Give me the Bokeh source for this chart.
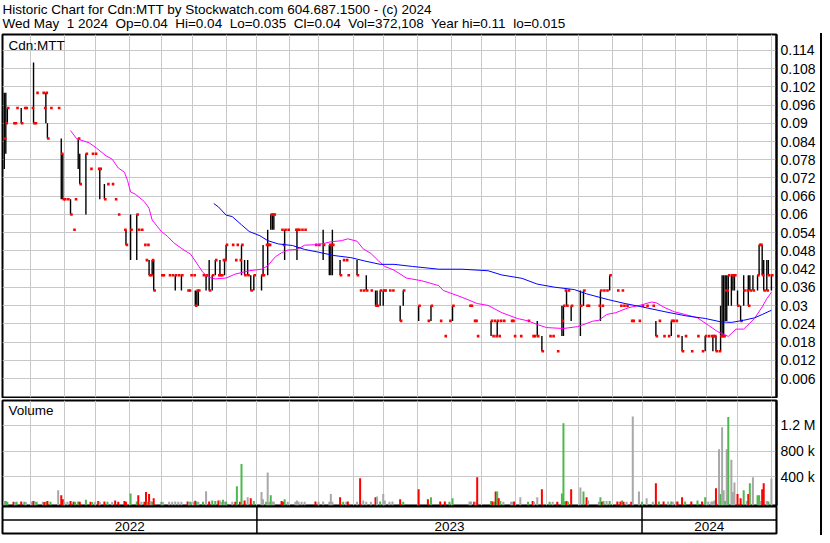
import pandas as pd
from bokeh.plotting import figure
from bokeh.models import (Range1d, FixedTicker, CustomJSTickFormatter, Span, Label,
                          ColumnDataSource, Spacer)
from bokeh.layouts import column, row
from bokeh.core.properties import value
from bokeh.embed import file_html
from bokeh.resources import INLINE

FONT = "Liberation Sans"

# ---------------- header texts ----------------
title_line = "Historic Chart for Cdn:MTT by Stockwatch.com 604.687.1500 - (c) 2024"
quote_line = "Wed May\u00a0 1 2024\u00a0 Op=0.04\u00a0 Hi=0.04\u00a0 Lo=0.035\u00a0 Cl=0.04\u00a0 Vol=372,108\u00a0 Year hi=0.11\u00a0 lo=0.015"
symbol = "Cdn:MTT"
year_names = ["2022", "2023", "2024"]

# ---------------- trading calendar (TSX) ----------------
first_day = "2022-05-02"
last_day = "2024-05-01"
holidays = ["2022-05-23", "2022-07-01", "2022-08-01", "2022-09-05", "2022-10-10",
            "2022-12-26", "2022-12-27", "2023-01-02", "2023-02-20", "2023-04-07",
            "2023-05-22", "2023-07-03", "2023-08-07", "2023-09-04", "2023-10-09",
            "2023-12-25", "2023-12-26", "2024-01-01", "2024-02-19", "2024-03-29"]

# ---------------- daily bars (trading-day number, high, low, close, volume in 1000s) ----------------
day = [4, 5, 6, 10, 11, 12, 15, 17, 18, 22, 23, 24, 25, 29, 30, 31, 32, 34,
       39, 41, 42, 43, 45, 47, 49, 50, 52, 53, 57, 60, 61, 63, 65, 66, 69, 71, 74, 76,
       78, 82, 83, 86, 90, 91, 93, 95, 96, 97, 98, 99, 100, 101,
       106, 107, 111, 113, 115, 117, 119, 123, 124, 125, 127, 128, 129, 130,
       133, 135, 137, 139, 141, 143, 144, 145, 146, 147, 148, 152, 154, 155, 157, 158, 160, 162, 164, 166,
       171, 172, 174, 175, 176, 177, 178, 179, 184, 185, 186, 188, 193, 194, 195, 197, 199,
       206, 208, 211, 215, 216, 217, 222, 224, 226, 227, 233, 235, 237, 239, 242, 245, 246, 248, 250, 251,
       254, 256,
       261, 263, 273, 279, 281, 287, 290, 293, 295, 306, 307, 309, 310, 311, 320, 321, 322, 323, 324, 325,
       326, 328, 333, 334, 335, 339, 344, 347, 348, 350, 353, 358, 360, 363, 366, 367, 368, 369, 370, 372,
       378, 380, 382, 383, 390, 391, 392, 393, 395, 397, 402, 404, 405, 406, 408, 411, 412, 416, 418, 421,
       425, 427, 429, 432, 435, 437, 438, 440, 441, 444, 446, 450, 454, 457, 459, 461, 463, 464, 465, 466,
       468,
       469, 470, 471, 472, 473, 474, 476, 477, 478, 480, 482, 484, 486, 487, 488, 490, 493, 494, 495, 496,
       497, 499, 500, 502]
high = [.1, .1, .095, .09, .09, .095, .095, .095, .095, .095, .11, .09, .1, .1, .095, .1, .09, .095,
        .095, .085, .08, .065, .065, .065, .055, .065, .085, .08, .08, .075, .08, .08, .075, .075, .07, .07, .07, .065,
        .06, .055, .055, .06, .06, .055, .055, .05, .045, .05, .045, .04, .045, .045,
        .04, .04, .04, .04, .04, .04, .04, .035, .035, .04, .04, .035, .035, .035,
        .04, .04, .045, .04, .045, .04, .045, .04, .045, .045, .05, .05, .045, .05, .045, .05, .045, .045, .04, .04,
        .04, .05, .05, .055, .05, .06, .06, .06, .055, .05, .055, .055, .055, .055, .055, .055, .055,
        .05, .05, .055, .05, .05, .055, .045, .045, .045, .04, .045, .035, .035, .04, .035, .035, .035, .035, .035, .035,
        .035, .035,
        .03, .035, .03, .025, .03, .025, .02, .025, .03, .03, .03, .025, .025, .02, .025, .02, .025, .02, .025, .02,
        .025, .025, .025, .025, .02, .02, .025, .02, .02, .025, .02, .02, .02, .015, .03, .03, .035, .035, .035, .03,
        .035, .035, .03, .03, .03, .035, .03, .035, .035, .04, .035, .03, .035, .03, .03, .025, .025, .025, .03, .03,
        .03, .025, .025, .02, .02, .025, .025, .025, .02, .02, .02, .015, .02, .015, .02, .02, .02, .02, .02, .02,
        .015,
        .03, .04, .04, .04, .04, .04, .04, .04, .04, .035, .03, .04, .035, .04, .04, .04, .04, .05, .05, .05,
        .045, .045, .045, .04]
low = [.075, .08, .09, .09, .09, .095, .09, .095, .095, .095, .09, .09, .1, .1, .095, .09, .085, .095,
       .095, .065, .065, .065, .065, .06, .055, .065, .075, .07, .06, .075, .08, .08, .075, .065, .065, .07, .07, .065,
       .06, .055, .05, .045, .045, .055, .055, .05, .045, .05, .04, .04, .04, .035,
       .04, .04, .04, .04, .035, .04, .035, .035, .035, .04, .04, .03, .03, .03,
       .04, .035, .035, .035, .04, .04, .04, .04, .045, .04, .045, .05, .045, .05, .045, .04, .04, .04, .035, .035,
       .035, .04, .05, .04, .05, .055, .055, .055, .055, .05, .045, .055, .055, .045, .055, .055, .055,
       .05, .05, .045, .04, .04, .04, .04, .045, .045, .04, .04, .035, .035, .035, .035, .03, .03, .03, .03, .035,
       .035, .035,
       .025, .03, .025, .025, .025, .025, .02, .025, .025, .03, .03, .025, .025, .02, .02, .02, .025, .02, .02, .02,
       .025, .025, .025, .025, .02, .02, .025, .02, .02, .02, .015, .02, .02, .015, .02, .02, .035, .03, .035, .025,
       .02, .03, .03, .03, .03, .025, .03, .035, .035, .035, .035, .03, .035, .03, .03, .025, .025, .025, .03, .03,
       .03, .02, .025, .02, .02, .02, .025, .025, .02, .015, .02, .015, .02, .015, .015, .02, .02, .015, .02, .015,
       .015,
       .015, .02, .02, .025, .025, .03, .03, .035, .035, .03, .025, .03, .035, .03, .035, .035, .035, .04, .05, .04,
       .035, .035, .04, .035]
close = [.085, .09, .095, .09, .09, .095, .09, .095, .095, .095, .09, .09, .1, .1, .095, .1, .085, .095,
         .095, .08, .065, .065, .065, .06, .055, .065, .085, .07, .08, .075, .08, .08, .075, .075, .065, .07, .07, .065,
         .06, .055, .05, .055, .06, .055, .055, .05, .045, .05, .04, .04, .045, .035,
         .04, .04, .04, .04, .04, .04, .04, .035, .035, .04, .04, .03, .035, .035,
         .04, .04, .035, .04, .045, .04, .04, .04, .045, .045, .05, .05, .045, .05, .045, .05, .04, .04, .035, .04,
         .04, .04, .05, .05, .05, .06, .06, .06, .055, .05, .055, .055, .055, .055, .055, .055, .055,
         .05, .05, .05, .05, .05, .05, .04, .045, .045, .04, .04, .035, .035, .035, .035, .03, .03, .035, .035, .035,
         .035, .035,
         .025, .035, .03, .025, .03, .025, .02, .025, .03, .03, .03, .025, .025, .02, .025, .02, .025, .02, .025, .02,
         .025, .025, .025, .025, .02, .02, .025, .02, .02, .02, .015, .02, .02, .015, .025, .03, .035, .03, .035, .03,
         .03, .035, .03, .03, .03, .035, .03, .035, .035, .04, .035, .03, .035, .03, .03, .025, .025, .025, .03, .03,
         .03, .02, .025, .02, .02, .025, .025, .025, .02, .015, .02, .015, .02, .015, .02, .02, .02, .02, .02, .015,
         .015,
         .02, .02, .02, .035, .035, .04, .04, .04, .04, .03, .025, .035, .035, .03, .035, .035, .04, .05, .05, .04,
         .035, .035, .04, .04]
volume_k = [20, 20, 10, 10, 5, 10, 15, 10, 5, 15, 20, 10, 10, 10, 5, 10, 20, 10,
            190, 110, 50, 10, 10, 20, 10, 10, 15, 10, 40, 10, 5, 10, 20, 10, 15, 10, 5, 30,
            10, 20, 10, 140, 15, 110, 10, 10, 160, 10, 130, 20, 10, 65,
            10, 5, 10, 10, 15, 10, 10, 15, 10, 10, 10, 25, 10, 10,
            10, 175, 15, 30, 20, 30, 30, 10, 40, 10, 15, 10, 10, 250, 10, 600, 30, 80, 65, 20,
            160, 50, 10, 465, 10, 110, 15, 10, 20, 10, 50, 10, 10, 30, 10, 10, 10,
            15, 10, 15, 10, 130, 10, 80, 10, 10, 15, 10, 375, 30, 10, 10, 80, 90, 15, 130, 30,
            10, 15,
            50, 10, 205, 50, 80, 15, 15, 10, 65, 15, 15, 10, 10, 390, 20, 15, 10, 170, 170, 65,
            20, 10, 10, 10, 15, 80, 10, 20, 10, 80, 205, 10, 10, 10, 140, 1235, 15, 20, 10, 205,
            230, 170, 80, 30, 10, 80, 10, 20, 20, 20, 15, 15, 30, 10, 10, 10, 1340, 170, 10, 65,
            10, 300, 15, 15, 15, 15, 10, 10, 15, 80, 15, 15, 30, 15, 80, 15, 15, 15, 30, 220,
            830,
            130, 1170, 190, 20, 830, 1330, 665, 160, 310, 130, 65, 190, 20, 130, 300, 390, 110, 110, 20, 205,
            300, 20, 15, 372.108]

# ---------------- moving averages ----------------
ma_short_day = [47, 51, 59, 64, 70, 74, 78, 82, 84, 86, 89, 95, 98, 100, 102, 106, 110, 114, 120, 125,
                128, 133, 137, 141, 148, 154, 163, 171, 175, 180, 184, 188, 194, 199, 208, 216, 223, 227, 233, 237,
                242, 247, 251, 257, 265, 275, 286, 289, 301, 311, 318, 327, 337, 344, 350, 356, 367, 376, 379, 386,
                390, 395, 401, 409, 418, 424, 427, 433, 439, 446, 454, 461, 467, 474, 479, 484, 491, 496, 499, 502]
ma_short = [0.0876, 0.0849, 0.0836, 0.0818, 0.0793, 0.0782, 0.0753, 0.0739, 0.0712, 0.0674,
            0.0667, 0.0642, 0.062, 0.0582, 0.0569, 0.0544, 0.0528, 0.0507, 0.0485, 0.0469,
            0.0447, 0.0409, 0.0393, 0.0388, 0.0391, 0.0404, 0.0415, 0.042, 0.0431, 0.0461,
            0.0474, 0.0483, 0.0485, 0.0499, 0.0501, 0.051, 0.0514, 0.052, 0.0512, 0.0487,
            0.0472, 0.0447, 0.0429, 0.0417, 0.0391, 0.0382, 0.0366, 0.035, 0.0328, 0.0307,
            0.0301, 0.0277, 0.0258, 0.025, 0.0238, 0.0228, 0.0225, 0.0231, 0.0236, 0.0249,
            0.0252, 0.0271, 0.0277, 0.0293, 0.0303, 0.0312, 0.031, 0.0293, 0.028, 0.0271,
            0.026, 0.0236, 0.0215, 0.0199, 0.0223, 0.0223, 0.0258, 0.0296, 0.0323, 0.0344]
ma_long_day = [140, 143, 148, 152, 158, 163, 170, 175, 182, 191, 199, 208, 218, 229, 238, 248, 257, 269, 286, 301,
               318, 327, 340, 350, 361, 374, 382, 396, 407, 418, 433, 446, 459, 469, 476, 484, 491, 496, 502]
ma_long = [0.0636, 0.0625, 0.0598, 0.0593, 0.0566, 0.0544, 0.053, 0.0514, 0.0503, 0.0498,
           0.0485, 0.0476, 0.0465, 0.0458, 0.0447, 0.0436, 0.0436, 0.0429, 0.042, 0.042,
           0.0415, 0.0401, 0.039, 0.0371, 0.0361, 0.0353, 0.0339, 0.032, 0.0307, 0.0296,
           0.028, 0.0267, 0.0258, 0.0247, 0.0245, 0.0252, 0.026, 0.0271, 0.0285]

price_ticks = [0.006, 0.012, 0.018, 0.024, 0.03, 0.036, 0.042, 0.048, 0.054, 0.06,
               0.066, 0.072, 0.078, 0.084, 0.09, 0.096, 0.102, 0.108, 0.114]
volume_ticks = [400000, 800000, 1200000]

assert len(day) == len(high) == len(low) == len(close) == len(volume_k), \
    (len(day), len(high), len(low), len(close), len(volume_k))
assert len(ma_short_day) == len(ma_short) and len(ma_long_day) == len(ma_long)

# ---------------- derived ----------------
dates = pd.bdate_range(first_day, last_day)
dates = dates[~dates.isin(pd.to_datetime(holidays))]
month_starts = [i for i in range(1, len(dates)) if dates[i].month != dates[i - 1].month]
year_starts = [i for i in range(1, len(dates)) if dates[i].year != dates[i - 1].year]

X0, X1 = 2.85, 505.3
P0, P1 = -0.0002, 0.1192
V0, V1 = -49000, 1589000

TXT = "13.5px"
TICK_TXT = "14px"
GRID = "#C8C8C8"
UP, DOWN, FLAT = "#4DB84D", "#FF0000", "#A8A8A8"
vol_colors = []
for k, c in enumerate(close):
    if k == 0 or c == close[k - 1]:
        vol_colors.append(FLAT)
    elif c > close[k - 1]:
        vol_colors.append(UP)
    else:
        vol_colors.append(DOWN)

bars = ColumnDataSource(dict(
    x=[d for d, h, l in zip(day, high, low) if h > l],
    hi=[h for h, l in zip(high, low) if h > l],
    lo=[l for h, l in zip(high, low) if h > l]))
ticks_src = ColumnDataSource(dict(x=[d + 0.6 for d in day], y=close))
vol_src = ColumnDataSource(dict(x=day, top=[v * 1000 for v in volume_k], color=vol_colors))

W_IN = 820
LEFT, RIGHT = 2, 44
HEAD_H = 33
PRICE_H = 365

xr = Range1d(X0, X1)


def style_common(p):
    p.background_fill_color = "white"
    p.border_fill_color = "white"
    p.outline_line_color = "black"
    p.outline_line_width = 2


def style_axis(ax, ticks, formatter):
    ax.ticker = FixedTicker(ticks=ticks)
    ax.formatter = formatter
    ax.major_tick_in = 0
    ax.major_tick_out = 0
    ax.minor_tick_in = 0
    ax.minor_tick_out = 0
    ax.axis_line_color = "black"
    ax.axis_line_width = 2
    ax.major_label_standoff = 4
    ax.major_label_text_font = FONT
    ax.major_label_text_font_size = TICK_TXT
    ax.major_label_text_color = "black"


# ---------------- header ----------------
header = figure(width=822, height=HEAD_H, x_range=Range1d(0, 822), y_range=Range1d(0, HEAD_H),
                x_axis_location=None, y_axis_location=None, toolbar_location=None,
                output_backend="svg", min_border=0)
header.outline_line_color = None
header.grid.visible = False
header.text(x=[2, 2], y=[HEAD_H - 9, HEAD_H - 23], text=[title_line, quote_line],
            text_font=value(FONT), text_font_size=TXT, text_color="black",
            text_baseline="middle", text_align="left")

# ---------------- price panel ----------------
pp = figure(width=W_IN, height=PRICE_H, x_range=xr, y_range=Range1d(P0, P1),
            x_axis_location=None, y_axis_location="right", toolbar_location=None,
            output_backend="svg", min_border_left=LEFT, min_border_right=RIGHT,
            min_border_top=1, min_border_bottom=1)
style_common(pp)
pp.xgrid.ticker = FixedTicker(ticks=month_starts)
pp.ygrid.ticker = FixedTicker(ticks=price_ticks)
pp.grid.grid_line_color = GRID
pp.grid.grid_line_width = 1
style_axis(pp.yaxis[0], price_ticks,
           CustomJSTickFormatter(code="return tick.toFixed(3).replace(/0+$/, '');"))

pp.segment(x0="x", y0="lo", x1="x", y1="hi", source=bars, line_color="black", line_width=1.4)
pp.scatter(x="x", y="y", source=ticks_src, marker="square", size=2.6,
           fill_color="#FF0000", line_color=None)
pp.line(ma_short_day, ma_short, line_color="#FF00FF", line_width=1)
pp.line(ma_long_day, ma_long, line_color="#0000FF", line_width=1)
pp.add_layout(Label(x=X0, y=0.1156, x_offset=6, text=symbol, text_font=FONT,
                    text_font_size=TXT, text_color="black", text_baseline="middle"))

# ---------------- volume panel ----------------
vp = figure(width=W_IN, height=108, x_range=xr, y_range=Range1d(V0, V1),
            x_axis_location=None, y_axis_location="right", toolbar_location=None,
            output_backend="svg", min_border_left=LEFT, min_border_right=RIGHT,
            min_border_top=2, min_border_bottom=1)
style_common(vp)
vp.xgrid.ticker = FixedTicker(ticks=month_starts)
vp.ygrid.ticker = FixedTicker(ticks=volume_ticks)
vp.grid.grid_line_color = GRID
vp.grid.grid_line_width = 1
style_axis(vp.yaxis[0], volume_ticks,
           CustomJSTickFormatter(code="return tick >= 1e6 ? (tick / 1e6) + ' M' : (tick / 1e3) + ' k';"))
vp.vbar(x="x", top="top", bottom=V0, width=1.3, source=vol_src,
        fill_color="color", line_color=None)
vp.add_layout(Label(x=X0, y=1435000, x_offset=6, text="Volume", text_font=FONT,
                    text_font_size=TXT, text_color="black", text_baseline="middle"))

# ---------------- time bar ----------------
tp = figure(width=W_IN, height=29, x_range=xr, y_range=Range1d(0, 2),
            x_axis_location=None, y_axis_location=None, toolbar_location=None,
            output_backend="svg", min_border_left=LEFT, min_border_right=RIGHT,
            min_border_top=0, min_border_bottom=2)
style_common(tp)
tp.grid.visible = False
tp.add_layout(Span(location=1, dimension="width", line_color="black", line_width=1.5))
for ys in year_starts:
    tp.add_layout(Span(location=ys, dimension="height", line_color="black", line_width=1.5))
bounds = [X0] + year_starts + [X1]
year_x = [(bounds[k] + bounds[k + 1]) / 2 for k in range(len(year_names))]
tp.text(x=year_x, y=[0.5] * len(year_names), text=year_names,
        text_font=value(FONT), text_font_size=TXT, text_color="black",
        text_align="center", text_baseline="middle")

right_edge = Spacer(width=2, height=PRICE_H + 108 + 29, styles={"background-color": "black"})

layout = column(header, row(column(pp, vp, tp), right_edge))

open("out.html", "w").write(file_html(layout, INLINE, title="Historic Chart for Cdn:MTT"))
